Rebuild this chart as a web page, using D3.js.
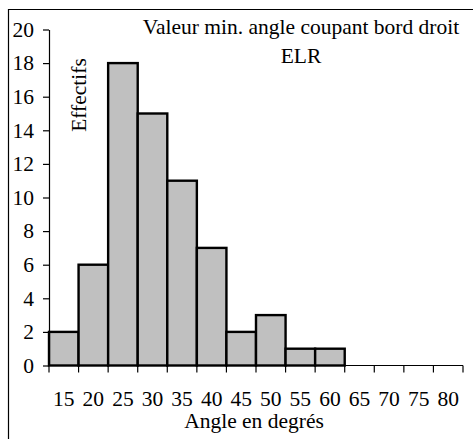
<!DOCTYPE html>
<html>
<head>
<meta charset="utf-8">
<script src="https://cdn.jsdelivr.net/npm/d3@7"></script>
<style>
  html, body { margin: 0; padding: 0; background: #fff; }
  svg { display: block; }
</style>
</head>
<body>
<svg id="chart" width="473" height="439"></svg>
<script>
// Histogram classes (degrees) and their counts; empty classes have no bar
const categories = ["15", "20", "25", "30", "35", "40", "45", "50", "55", "60", "65", "70", "75", "80"];
const counts = [2, 6, 18, 15, 11, 7, 2, 3, 1, 1, null, null, null, null];
const yTicks = [0, 2, 4, 6, 8, 10, 12, 14, 16, 18, 20];
const titleLines = ["Valeur min. angle coupant bord droit", "ELR"];
const xTitle = "Angle en degrés";
const yTitle = "Effectifs";

const FONT = "'Liberation Serif', 'Times New Roman', Times, serif";
const fontSize = 21.5;

const svg = d3.select("#chart")
  .attr("font-family", FONT)
  .attr("font-size", fontSize);

// Frame around the chart area
svg.append("path")
  .attr("d", "M8.5,439 V9.5 H473")
  .attr("fill", "none")
  .attr("stroke", "#000")
  .attr("stroke-width", 1.2);

const x = d3.scaleBand().domain(categories).range([49, 463]).paddingInner(0).paddingOuter(0);
const y = d3.scaleLinear().domain([0, 20]).range([365.5, 29.5]);

// Bars
const data = categories.map((c, i) => ({ c, v: counts[i] })).filter(d => d.v != null);
svg.append("g")
  .selectAll("rect")
  .data(data)
  .join("rect")
  .attr("x", d => x(d.c))
  .attr("y", d => y(d.v))
  .attr("width", x.bandwidth())
  .attr("height", d => y(0) - y(d.v))
  .attr("fill", "#c0c0c0")
  .attr("stroke", "#000")
  .attr("stroke-width", 2.4);

// Y axis
const yAxis = svg.append("g").attr("transform", "translate(49,0)")
  .call(d3.axisLeft(y).tickValues(yTicks).tickSize(6).tickPadding(9).tickSizeOuter(0));
yAxis.attr("font-family", FONT).attr("font-size", fontSize);
yAxis.select(".domain").attr("stroke-width", 1.2);
yAxis.selectAll(".tick line").attr("stroke-width", 1.2);
yAxis.selectAll(".tick text").attr("fill", "#000");

// X axis: line, ticks at class boundaries, labels centred on each class
const xg = svg.append("g");
xg.append("line")
  .attr("x1", x.range()[0]).attr("x2", x.range()[1])
  .attr("y1", y(0)).attr("y2", y(0))
  .attr("stroke", "#000").attr("stroke-width", 1.2);
const bounds = categories.map(c => x(c)).concat([x.range()[1]]);
xg.selectAll("line.tk")
  .data(bounds)
  .join("line")
  .attr("class", "tk")
  .attr("x1", d => d).attr("x2", d => d)
  .attr("y1", y(0)).attr("y2", y(0) + 7)
  .attr("stroke", "#000").attr("stroke-width", 1.2);
xg.selectAll("text")
  .data(categories)
  .join("text")
  .attr("x", d => x(d) + x.bandwidth() / 2)
  .attr("y", 406)
  .attr("text-anchor", "middle")
  .text(d => d);

// Axis titles
svg.append("text")
  .attr("x", 254).attr("y", 428)
  .attr("text-anchor", "middle")
  .text(xTitle);

svg.append("text")
  .attr("transform", "translate(85.5,95) rotate(-90)")
  .attr("text-anchor", "middle")
  .text(yTitle);

// Chart title
svg.append("g").selectAll("text")
  .data(titleLines)
  .join("text")
  .attr("x", 301)
  .attr("y", (d, i) => 34 + i * 29)
  .attr("text-anchor", "middle")
  .text(d => d);
</script>
</body>
</html>
